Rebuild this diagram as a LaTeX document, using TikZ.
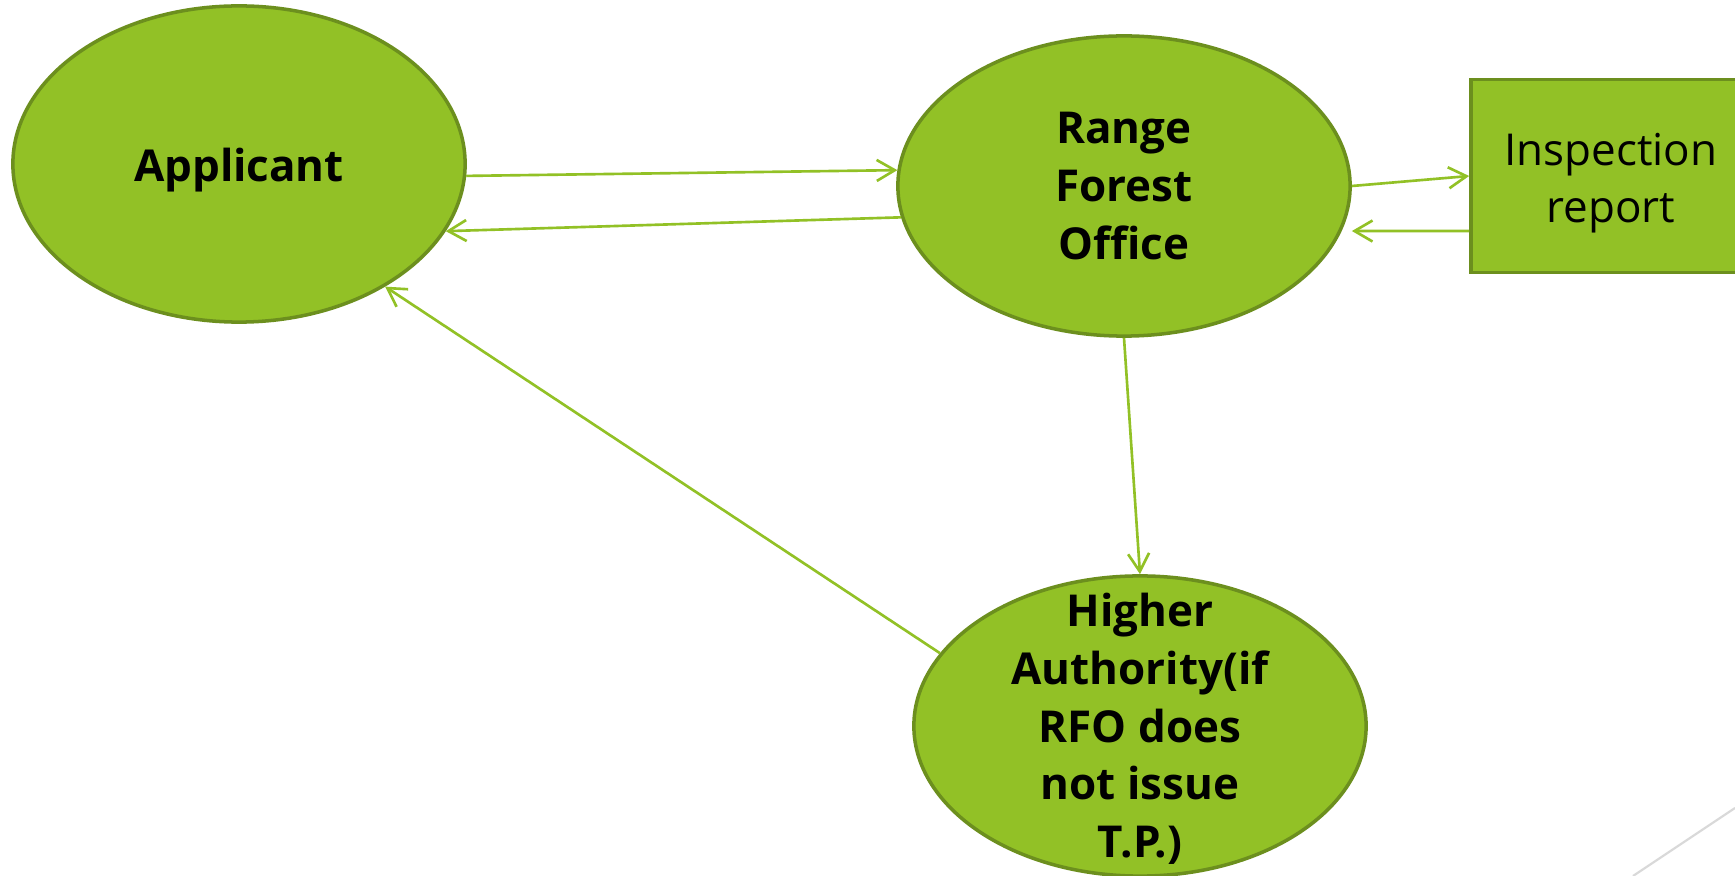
\documentclass[tikz,border=0pt]{standalone}
\usepackage{fontspec}
\setmainfont{Open Sans}
\usetikzlibrary{shapes.geometric,arrows.meta}
\definecolor{leaf}{RGB}{146,193,38}
\definecolor{leafdark}{RGB}{108,143,30}
\definecolor{edgegray}{RGB}{217,217,217}

\begin{document}
\begin{tikzpicture}[x=0.01cm,y=-0.01cm,
  blob/.style={ellipse,draw=leafdark,fill=leaf,line width=1pt,
    minimum width=4.52cm,minimum height=3cm,inner sep=0pt},
  reportbox/.style={rectangle,draw=leafdark,fill=leaf,line width=1pt,
    minimum width=2.8cm,minimum height=1.93cm,inner sep=0pt},
  txt/.style={align=center,text=black,font=\fontsize{12.5}{16.4}\selectfont},
  boldtxt/.style={txt,font=\bfseries\fontsize{12.5}{16.4}\selectfont},
  flow/.style={draw=leaf,line width=0.75pt,-{Straight Barb[length=1.8mm,width=2.1mm]}}]

  % Background
  \fill[white] (0,0) rectangle (1735,876);
  \useasboundingbox (0,0) rectangle (1735,876);
  \clip (0,0) rectangle (1735,876);

  % Nodes
  \node[blob,minimum height=3.16cm] (app) at (239,164) {};
  \node[boldtxt] (apptext) at (239,170) {Applicant};
  \node[blob,boldtxt] (rfo) at (1124,186) {Range\\Forest\\Office};
  \node[reportbox] (ins) at (1611,176) {};
  \node[txt] (instext) at (1611,183) {Inspection\\report};
  \node[blob] (ha) at (1140,726) {};
  \node[boldtxt] (hatext) at (1140,729)
    {Higher\\Authority(if\\RFO does\\not issue\\T.P.)};

  % Arrows
  \draw[flow] (app.-3) -- (rfo.176);
  \draw[flow] (rfo.-172) -- (app.-18);
  \draw[flow] (rfo.0) -- (ins.west);
  \draw[flow] ([yshift=-0.55cm]ins.west) -- ([yshift=-0.45cm]rfo.east);
  \draw[flow] (rfo.south) -- (ha.north);
  \draw[flow] (ha.160) -- (app.-40);

  % Corner line
  \draw[edgegray,line width=0.6pt] (1633,876) -- (1735,808);

\end{tikzpicture}
\end{document}
